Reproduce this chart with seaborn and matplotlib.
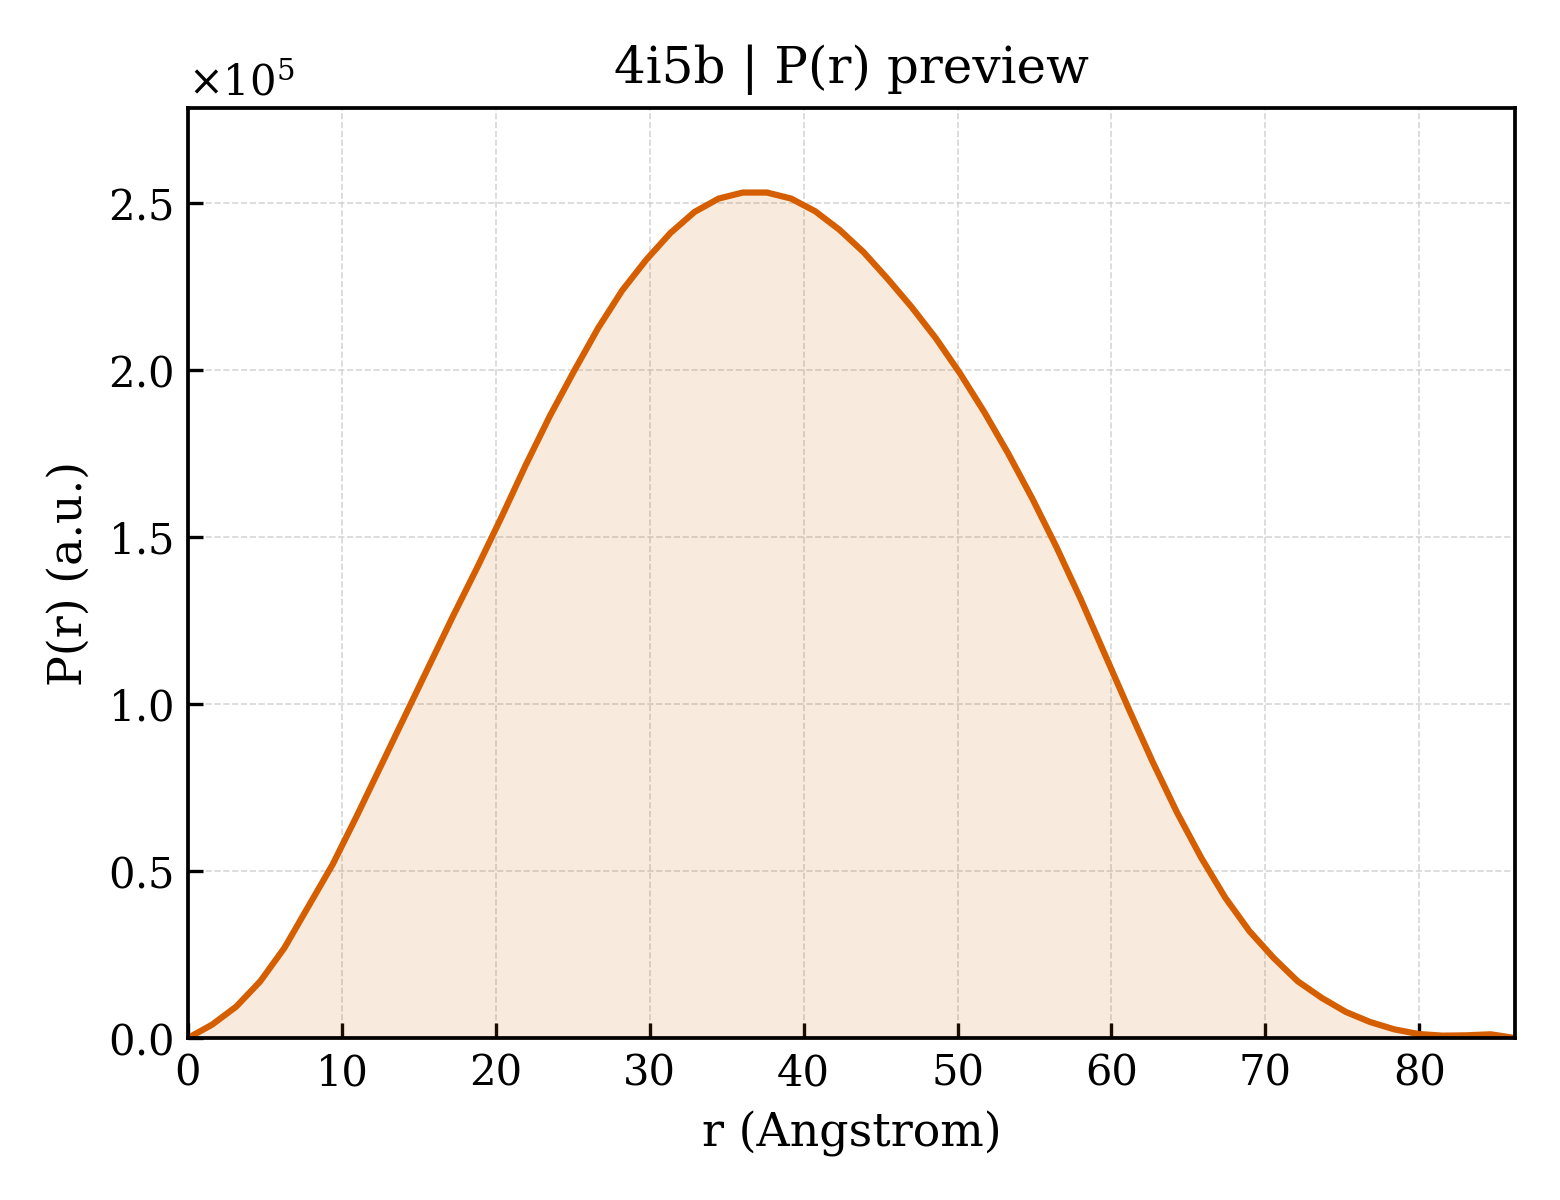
import numpy as np
import matplotlib
matplotlib.use("Agg")
import matplotlib.pyplot as plt
import seaborn as sns

dmax = 86.2
n_points = 56
pr_scaled = [
    0.0, 0.04, 0.094, 0.17, 0.27, 0.395, 0.52, 0.665, 0.815, 0.965,
    1.115, 1.265, 1.41, 1.56, 1.715, 1.862, 1.996, 2.125, 2.238, 2.33,
    2.41, 2.473, 2.513, 2.531, 2.531, 2.513, 2.475, 2.42, 2.353, 2.273,
    2.188, 2.095, 1.99, 1.875, 1.75, 1.615, 1.47, 1.315, 1.15, 0.985,
    0.825, 0.675, 0.54, 0.42, 0.32, 0.24, 0.17, 0.12, 0.078, 0.048,
    0.026, 0.012, 0.007, 0.008, 0.011, 0.0,
]
scale = 1e5
title = "4i5b | P(r) preview"
xlabel = "r (Angstrom)"
ylabel = "P(r) (a.u.)"

r = np.linspace(0, dmax, n_points)
pr = np.array(pr_scaled) * scale

sns.set_theme(style="white")
plt.rcParams["font.family"] = ["DejaVu Serif"]
plt.rcParams["mathtext.fontset"] = "dejavuserif"
plt.rcParams["text.color"] = "black"
plt.rcParams["axes.labelcolor"] = "black"

fig, ax = plt.subplots(figsize=(5.2, 4), dpi=300)
fig.subplots_adjust(left=0.1205, right=0.971, top=0.91, bottom=0.135)

line_color = "#D55E00"
sns.lineplot(x=r, y=pr, ax=ax, color=line_color, linewidth=1.5)
ax.fill_between(r, pr, 0, color=line_color, alpha=0.13, linewidth=0)

ax.set_xlim(0, dmax)
ax.set_ylim(0, pr.max() * 1.1)
ax.set_xticks(np.arange(0, 81, 10))

ax.ticklabel_format(axis="y", style="sci", scilimits=(0, 0), useMathText=True)
ax.yaxis.get_offset_text().set_fontsize(10)
ax.yaxis.get_offset_text().set_color("black")

ax.grid(True, linestyle="--", linewidth=0.4, color="#cccccc", alpha=0.8)
ax.tick_params(direction="in", length=3.5, width=0.8, labelsize=10,
               bottom=True, left=True, top=False, right=False, colors="black")
for sp in ax.spines.values():
    sp.set_linewidth(0.9)
    sp.set_color("black")

ax.set_title(title, fontsize=12, color="black")
ax.set_xlabel(xlabel, fontsize=11, color="black")
ax.set_ylabel(ylabel, fontsize=11, color="black")

fig.savefig("out.png", dpi=300)
